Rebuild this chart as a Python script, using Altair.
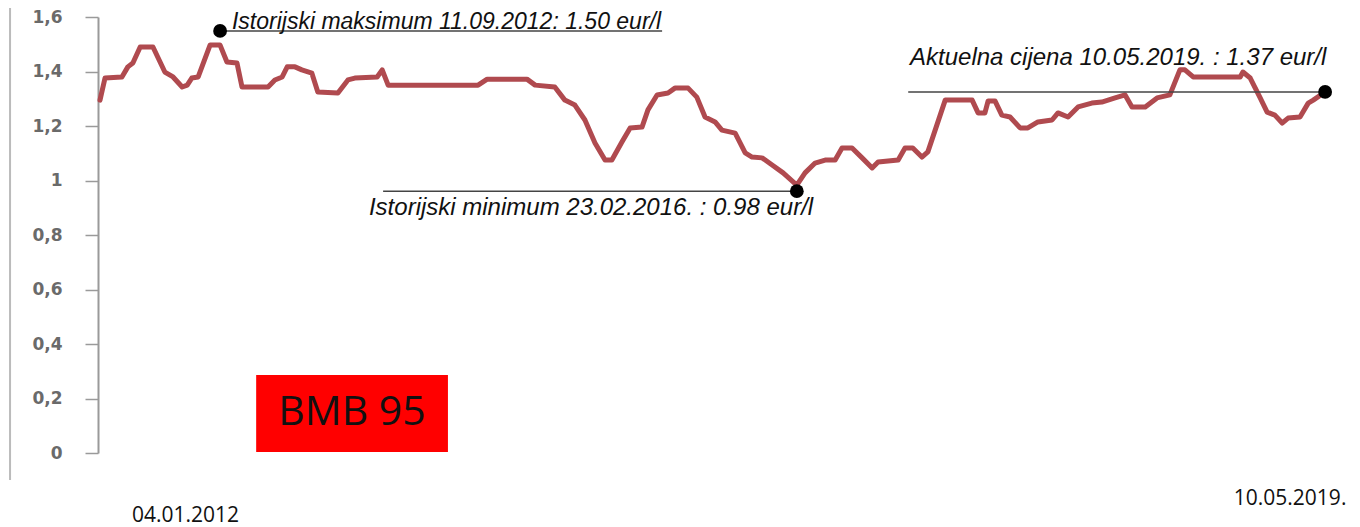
import altair as alt
import pandas as pd

# ---- data ----
# days since 04.01.2012 and BMB 95 price (eur/l)
days = [0, 11, 48, 61, 72, 88, 116, 142, 160, 180, 191, 201, 215, 241, 263, 278, 300, 311,
        368, 383, 399, 410, 427, 442, 464, 477, 521, 543, 558, 607, 618, 631, 828, 848, 935,
        953, 996, 1018, 1040, 1062, 1084, 1106, 1121, 1143, 1161, 1187, 1200, 1220, 1244,
        1259, 1288, 1307, 1325, 1347, 1362, 1391, 1413, 1428, 1450, 1472, 1496, 1526, 1544,
        1566, 1588, 1610, 1625, 1647, 1669, 1691, 1704, 1748, 1763, 1780, 1800, 1813, 1829,
        1851, 1910, 1923, 1938, 1945, 1960, 1975, 1993, 2015, 2032, 2054, 2085, 2098, 2120,
        2142, 2172, 2194, 2223, 2245, 2260, 2289, 2315, 2343, 2365, 2376, 2394, 2497, 2503,
        2519, 2540, 2556, 2573, 2589, 2602, 2628, 2646, 2657, 2683]
price = [1.295, 1.376, 1.380, 1.417, 1.431, 1.490, 1.490, 1.398, 1.380, 1.343, 1.350, 1.376,
         1.380, 1.497, 1.497, 1.435, 1.431, 1.343, 1.343, 1.369, 1.380, 1.417, 1.417, 1.406,
         1.394, 1.325, 1.321, 1.369, 1.376, 1.380, 1.406, 1.350, 1.350, 1.372, 1.372, 1.350,
         1.343, 1.295, 1.277, 1.222, 1.138, 1.075, 1.075, 1.141, 1.193, 1.196, 1.259, 1.314,
         1.321, 1.339, 1.339, 1.306, 1.233, 1.215, 1.185, 1.174, 1.101, 1.086, 1.083, 1.057,
         1.028, 0.983, 1.028, 1.064, 1.075, 1.075, 1.119, 1.119, 1.083, 1.046, 1.068, 1.075,
         1.119, 1.119, 1.086, 1.105, 1.185, 1.295, 1.295, 1.248, 1.248, 1.292, 1.292, 1.240,
         1.233, 1.193, 1.193, 1.215, 1.222, 1.248, 1.233, 1.270, 1.284, 1.288, 1.303, 1.314,
         1.270, 1.270, 1.303, 1.314, 1.406, 1.406, 1.380, 1.380, 1.398, 1.376, 1.306, 1.251,
         1.240, 1.211, 1.229, 1.233, 1.284, 1.295, 1.325]

y_ticks = [0, 0.2, 0.4, 0.6, 0.8, 1.0, 1.2, 1.4, 1.6]

# marked points (max, min, current)
dot_day = [263, 1526, 2683]
dot_price = [1.549, 0.961, 1.325]

# leader lines
guide_start = [263, 620, 1770]
guide_end = [1231, 1526, 2683]
guide_price = [1.549, 0.961, 1.325]

# annotation texts
ann_text = ["Istorijski maksimum 11.09.2012: 1.50 eur/l",
            "Istorijski minimum 23.02.2016. : 0.98 eur/l",
            "Aktuelna cijena 10.05.2019. : 1.37 eur/l"]
ann_day = [289, 589, 1774]
ann_price = [1.556, 0.873, 1.424]
ann_size = [23, 24, 24]

# start / end date labels
date_labels = ["04.01.2012", "10.05.2019."]
date_day = [70, 2483]
date_price = [-0.253, -0.191]

# product label box
box_label = ["BMB 95"]
box_day, box_day2 = [342], [762]
box_p, box_p2 = [0.286], [0.004]
box_text_day, box_text_p = [552], [0.147]

# left frame line
frame_day = [-197]
frame_p, frame_p2 = [-0.099], [1.651]

# ---- chart ----
xs = alt.Scale(domain=[-4.38, 2682.75], nice=False, zero=False)
ys = alt.Scale(domain=[0, 1.6], nice=False, zero=False)
y_axis = alt.Axis(values=y_ticks, labelExpr="replace(format(datum.value, '~g'), '.', ',')",
                  tickSize=13, tickColor="#9a9a9a", tickWidth=1.5, domainColor="#9a9a9a",
                  domainWidth=2, labelFont="DejaVu Sans", labelFontSize=17, labelFontWeight="bold",
                  labelColor="#6a6a6a", labelPadding=23, grid=False, title=None)


def X(f):
    return alt.X(f, type="quantitative", scale=xs, axis=None)


def Y(f):
    return alt.Y(f, type="quantitative", scale=ys, axis=y_axis)


line_df = pd.DataFrame({"day": days, "price": price})
line = alt.Chart(line_df).mark_line(color="#b04a4f", strokeWidth=5, strokeJoin="round",
                                    strokeCap="round").encode(x=X("day"), y=Y("price"))

frame = alt.Chart(pd.DataFrame({"d": frame_day, "p": frame_p, "p2": frame_p2})).mark_rule(
    color="#bbbbbb", strokeWidth=2).encode(x=X("d"), y=Y("p"), y2="p2")

box = alt.Chart(pd.DataFrame({"d": box_day, "d2": box_day2, "p": box_p, "p2": box_p2})).mark_rect(
    color="#ff0000").encode(x=X("d"), x2="d2", y=Y("p"), y2="p2")

box_text = alt.Chart(pd.DataFrame({"t": box_label, "d": box_text_day, "p": box_text_p})).mark_text(
    font="Open Sans", fontSize=41, color="#111111", align="center", baseline="middle").encode(
    x=X("d"), y=Y("p"), text="t")

guides = alt.Chart(pd.DataFrame({"d": guide_start, "d2": guide_end, "p": guide_price})).mark_rule(
    color="#444444", strokeWidth=1.5).encode(x=X("d"), x2="d2", y=Y("p"))

dots = alt.Chart(pd.DataFrame({"d": dot_day, "p": dot_price})).mark_circle(
    color="black", size=190, opacity=1).encode(x=X("d"), y=Y("p"))

ann = alt.Chart(pd.DataFrame({"t": ann_text, "d": ann_day, "p": ann_price, "s": ann_size})).mark_text(
    font="Liberation Sans", fontStyle="italic", color="#111111", align="left",
    baseline="alphabetic").encode(x=X("d"), y=Y("p"), text="t",
                                  size=alt.Size("s:Q", scale=None, legend=None))

dates = alt.Chart(pd.DataFrame({"t": date_labels, "d": date_day, "p": date_price})).mark_text(
    font="Open Sans", fontSize=21, color="#111111", align="left", baseline="alphabetic").encode(
    x=X("d"), y=Y("p"), text="t")

chart = alt.layer(frame, line, box, box_text, guides, dots, ann, dates).properties(
    width=1227, height=436,
    autosize=alt.AutoSizeParams(type="none"),
    padding={"left": 90, "top": 9, "right": 27, "bottom": 74},
    background="white",
).configure_view(stroke=None)

chart.save("out.html", embed_options={"renderer": "svg", "actions": False})
